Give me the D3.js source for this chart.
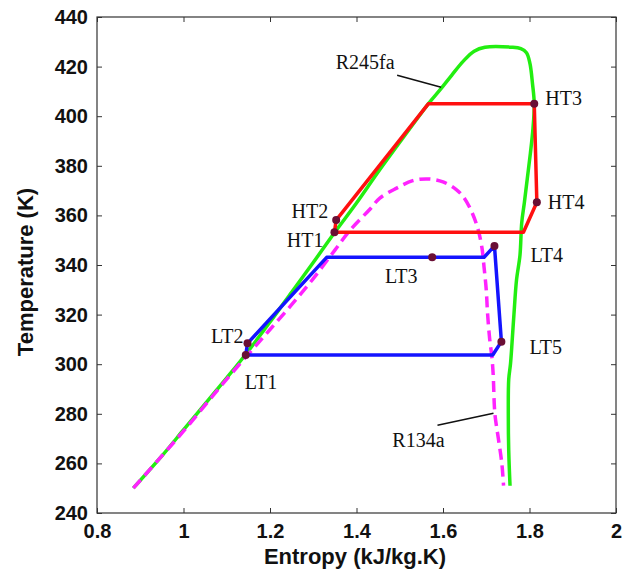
<!DOCTYPE html>
<html><head><meta charset="utf-8">
<script src="https://cdn.jsdelivr.net/npm/d3@7"></script>
<style>body{margin:0;background:#fff;} svg{display:block;}</style>
</head><body>
<svg id="chart" width="635" height="576"></svg>
<script>
// ---- data ----
const xTicks = [0.8, 1, 1.2, 1.4, 1.6, 1.8, 2];
const yTicks = [240, 260, 280, 300, 320, 340, 360, 380, 400, 420, 440];

// R245fa saturation dome (green)
const r245faS = [0.884, 0.95, 1.0, 1.05, 1.10, 1.144, 1.2, 1.25, 1.30, 1.349, 1.40, 1.45, 1.50, 1.566, 1.593, 1.62, 1.647, 1.672, 1.697, 1.759, 1.78, 1.793, 1.801, 1.807, 1.811, 1.808, 1.802, 1.795, 1.788, 1.782, 1.778, 1.770, 1.764, 1.759, 1.756, 1.752, 1.751, 1.752, 1.755];
const r245faT = [250, 263, 273.5, 284, 294.5, 304, 317, 329, 341, 353, 365, 377.5, 389.5, 405, 410.6, 416.5, 422.2, 426.2, 427.8, 427.8, 427.2, 425.6, 421.3, 413, 405, 395, 385, 375, 365, 357, 344, 334, 320, 307, 300, 294, 280, 265, 251];

// R134a saturation dome (magenta, dashed)
const r134aS = [0.884, 0.95, 1.0, 1.05, 1.10, 1.15, 1.20, 1.25, 1.30, 1.35, 1.385, 1.431, 1.454, 1.493, 1.53, 1.566, 1.60, 1.63, 1.647, 1.665, 1.680, 1.690, 1.695, 1.700, 1.703, 1.708, 1.713, 1.716, 1.720, 1.728, 1.736, 1.740];
const r134aT = [250, 263, 273, 283.5, 294, 304, 314, 324, 334.5, 346, 354, 362.5, 367, 371, 374, 374.7, 373.5, 370.5, 367.5, 362, 355, 347, 339, 330, 320.6, 310, 303, 296, 280, 270, 260, 251];

// High-temperature cycle (red)
const htS = [1.349, 1.353, 1.566, 1.811, 1.817, 1.786, 1.349];
const htT = [353.2, 358.1, 405, 405, 365.3, 353.2, 353.2];

// Low-temperature cycle (blue)
const ltS = [1.144, 1.148, 1.331, 1.575, 1.695, 1.719, 1.735, 1.715, 1.144];
const ltT = [303.7, 308.4, 343.1, 343.1, 343.1, 347.7, 309.1, 303.7, 303.7];

// State points
const stateNames = ["HT1", "HT2", "HT3", "HT4", "LT1", "LT2", "LT3", "LT4", "LT5"];
const stateS = [1.349, 1.353, 1.811, 1.817, 1.144, 1.148, 1.575, 1.719, 1.735];
const stateT = [353.2, 358.1, 405, 365.3, 303.7, 308.4, 343.1, 347.7, 309.1];

// Curve name annotations (label, point on curve the leader touches)
const curveNames = ["R245fa", "R134a"];
const annoS = [1.598, 1.719];
const annoT = [411.7, 280.2];

// ---- drawing ----
const svg = d3.select("#chart");
const M = {left: 97, right: 616, top: 17, bottom: 513};
const x = d3.scaleLinear().domain([0.8, 2]).range([M.left, M.right]);
const y = d3.scaleLinear().domain([240, 440]).range([M.bottom, M.top]);

const axisColor = "#333";
const sans = "'Liberation Sans', Arial, sans-serif";
const serif = "'Liberation Serif', 'Times New Roman', serif";

// box
svg.append("rect").attr("x", M.left).attr("y", M.top)
  .attr("width", M.right - M.left).attr("height", M.bottom - M.top)
  .attr("fill", "none").attr("stroke", axisColor).attr("stroke-width", 1.2);

// axes with inward ticks
const gx = svg.append("g").attr("transform", `translate(0,${M.bottom})`)
  .call(d3.axisBottom(x).tickValues(xTicks).tickSize(-5).tickPadding(11).tickFormat(d3.format("")));
const gxt = svg.append("g").attr("transform", `translate(0,${M.top})`)
  .call(d3.axisTop(x).tickValues(xTicks).tickSize(-5).tickFormat(""));
const gy = svg.append("g").attr("transform", `translate(${M.left},0)`)
  .call(d3.axisLeft(y).tickValues(yTicks).tickSize(-5).tickPadding(9));
const gyr = svg.append("g").attr("transform", `translate(${M.right},0)`)
  .call(d3.axisRight(y).tickValues(yTicks).tickSize(-5).tickFormat(""));
[gx, gxt, gy, gyr].forEach(g => {
  g.select(".domain").remove();
  g.selectAll(".tick line").attr("stroke", axisColor).attr("stroke-width", 1);
  g.selectAll("text").attr("font-family", sans).attr("font-size", 20)
    .attr("font-weight", "bold").attr("fill", "#111");
});

// axis titles
svg.append("text").attr("x", 355).attr("y", 564)
  .attr("text-anchor", "middle").attr("font-family", sans).attr("font-weight", "bold")
  .attr("font-size", 22).attr("fill", "#111").text("Entropy (kJ/kg.K)");
svg.append("text").attr("transform", `translate(33,272) rotate(-90)`)
  .attr("text-anchor", "middle").attr("font-family", sans).attr("font-weight", "bold")
  .attr("font-size", 22).attr("fill", "#111").text("Temperature (K)");

const line = d3.line().x(d => x(d[0])).y(d => y(d[1]));
const smooth = d3.line().x(d => x(d[0])).y(d => y(d[1])).curve(d3.curveCatmullRom.alpha(0.5));
const zip = (a, b) => a.map((v, i) => [v, b[i]]);

// green dome
svg.append("path").datum(zip(r245faS, r245faT)).attr("d", smooth)
  .attr("fill", "none").attr("stroke", "#22ee11").attr("stroke-width", 3.5)
  .attr("stroke-linejoin", "round");
// magenta dashed dome
svg.append("path").datum(zip(r134aS, r134aT)).attr("d", smooth)
  .attr("fill", "none").attr("stroke", "#ff22ff").attr("stroke-width", 3.5)
  .attr("stroke-dasharray", "11,6");
// blue cycle
svg.append("path").datum(zip(ltS, ltT)).attr("d", line)
  .attr("fill", "none").attr("stroke", "#1414ff").attr("stroke-width", 3.5)
  .attr("stroke-linejoin", "round");
// red cycle
svg.append("path").datum(zip(htS, htT)).attr("d", line)
  .attr("fill", "none").attr("stroke", "#ff1010").attr("stroke-width", 3.5)
  .attr("stroke-linejoin", "round");

// state dots
svg.selectAll("circle.state").data(stateNames).enter().append("circle")
  .attr("class", "state")
  .attr("cx", (d, i) => x(stateS[i])).attr("cy", (d, i) => y(stateT[i]))
  .attr("r", 4).attr("fill", "#6a0f35");

// state labels (pixel offsets relative to the dot)
const labelOffsets = {
  HT1: [-11, 8, "end"], HT2: [-8, -9, "end"], HT3: [11, -6, "start"], HT4: [11, 0, "start"],
  LT1: [-1, 27, "start"], LT2: [-4, -7, "end"], LT3: [-31, 19, "middle"], LT4: [36, 9, "start"],
  LT5: [28, 5, "start"]
};
svg.selectAll("text.state").data(stateNames).enter().append("text")
  .attr("class", "state")
  .attr("x", (d, i) => x(stateS[i]) + labelOffsets[d][0])
  .attr("y", (d, i) => y(stateT[i]) + labelOffsets[d][1])
  .attr("dy", "0.35em").attr("text-anchor", d => labelOffsets[d][2])
  .attr("font-family", serif).attr("font-size", 20).attr("fill", "#111")
  .text(d => d);

// curve annotations with leader lines
const leaderStart = [[-45, -12], [-57, 12]];
const textOffset = [[-77, -25], [-76, 27]];
curveNames.forEach((name, i) => {
  const px = x(annoS[i]), py = y(annoT[i]);
  svg.append("line").attr("x1", px + leaderStart[i][0]).attr("y1", py + leaderStart[i][1])
    .attr("x2", px - 1).attr("y2", py).attr("stroke", "#111").attr("stroke-width", 1.5);
  svg.append("text").attr("x", px + textOffset[i][0]).attr("y", py + textOffset[i][1])
    .attr("dy", "0.35em").attr("text-anchor", "middle")
    .attr("font-family", serif).attr("font-size", 20).attr("fill", "#111").text(name);
});
</script>
</body></html>
